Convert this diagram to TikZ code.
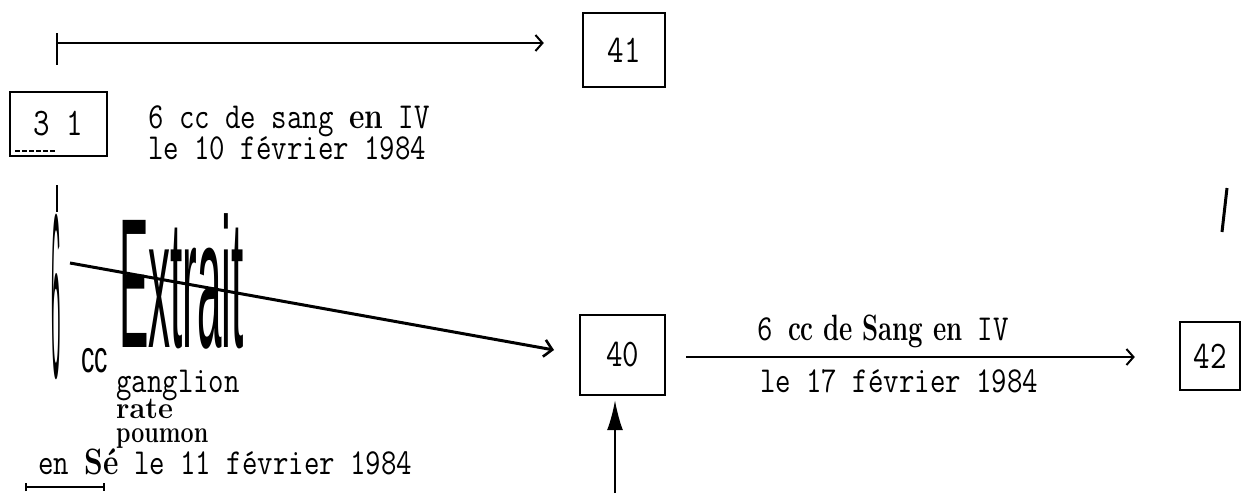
\documentclass[tikz,border=0pt]{standalone}
\usepackage{fontspec}
\newfontfamily\sansf{Liberation Sans}
\usetikzlibrary{arrows.meta}
\newcommand\tallt[1]{\scalebox{1}[1.22]{#1}}
\begin{document}
\begin{tikzpicture}[x=1pt,y=-1pt,
  box/.style={draw,line width=2.4pt,minimum width=#1,inner sep=0pt,font=\fontsize{32}{34}\ttfamily},
  lbl/.style={anchor=base west,inner sep=0pt,font=\fontsize{30}{32}\ttfamily},
  conn/.style={line width=2pt,-{Straight Barb[length=7pt,width=16pt,line width=2pt]}},
  tick/.style={line width=1.6pt}]
\useasboundingbox (0,0) rectangle (1242,493);
% boxes
\node[box=82pt,minimum height=74pt] (b41) at (624,50) {\tallt{41}};
\node[box=97pt,minimum height=64pt] (b31) at (58.5,124) {\tallt{3 1}};
\node[box=85pt,minimum height=80pt] (b40) at (622.5,355) {\tallt{40}};
\node[box=60pt,minimum height=68pt] (b42) at (1210,356) {\tallt{42}};
% top arrow
\coordinate (t0) at (57,43);
\coordinate (t1) at (57,33);
\coordinate (t2) at (57,65);
\draw[tick] (t1) -- (t2);
\draw[conn] (t0) -- (t0 -| b41.west) [shorten >=38pt];
% text near 31
\node[lbl] (s1) at (148,128) {\tallt{6 cc de sang {\rmfamily\bfseries en} IV}};
\node[lbl] (s2) at (148,159) {\tallt{le 10 février 1984}};
% tick under box 31
\coordinate (v1) at (57,185);
\coordinate (v2) at (57,212);
\draw[tick] (v1) -- (v2);
% smudge at bottom of box 31
\coordinate (m1) at (15,151);
\coordinate (m2) at (56,151);
\draw[line width=1.5pt,dash pattern=on 5pt off 2pt] (m1) -- (m2);
% big handwritten-like text
\node[anchor=base west,inner sep=0pt,font=\fontsize{26}{28}\sansf] (six) at (51,377) {\scalebox{0.65}[9.0]{6}};
\node[anchor=base west,inner sep=0pt,font=\fontsize{28}{30}\sansf] (cc) at (81,372) {\scalebox{0.95}[1.6]{cc}};
\node[anchor=base west,inner sep=0pt,font=\fontsize{44}{46}\sansf] (ex) at (119,347) {\scalebox{1}[4.2]{Extrait}};
\node[lbl] (g1) at (116,392) {\tallt{ganglion}};
\node[lbl,font=\fontsize{29}{31}\rmfamily\bfseries] (g2) at (116,418) {\scalebox{1}[1.05]{rate}};
\node[lbl,font=\fontsize{29}{31}\rmfamily\bfseries] (g3) at (116,442) {\scalebox{0.8}[1.05]{poumon}};
\node[lbl] (g4) at (38,474) {\tallt{en {\rmfamily\bfseries Sé} le 11 février 1984}};
% slanted arrow
\coordinate (d0) at (70,263);
\coordinate (d1) at (554,350);
\draw[line width=3pt,-{Straight Barb[length=8pt,width=17pt,line width=2.6pt]}] (d0) -- (d1);
% bottom-left line
\coordinate (l1) at (25,487);
\coordinate (l2) at (105,487);
\draw[line width=2pt,{Bar[width=8pt]}-{Bar[width=8pt]}] (l1) -- (l2);
% arrow 40 -> 42
\draw[conn] (b40.east |- 0,357) -- (b42.west |- 0,357) [shorten <=20pt, shorten >=44pt];
\node[lbl] (a1) at (757,340) {\tallt{6 {\fontsize{30}{32}\rmfamily\bfseries\scalebox{0.86}[1]{cc de Sang en}} IV}};
\node[lbl] (a2) at (760,392) {\tallt{le 17 février 1984}};
% right slash
\coordinate (r1) at (1227,188);
\coordinate (r2) at (1222,232);
\draw[line width=3pt] (r1) -- (r2);
% upward arrow
\coordinate (u0) at (615,493);
\draw[line width=2pt,-{Latex[length=30pt,width=16pt]}] (u0) -- (u0 |- b40.south) [shorten >=4pt];
\end{tikzpicture}
\end{document}
